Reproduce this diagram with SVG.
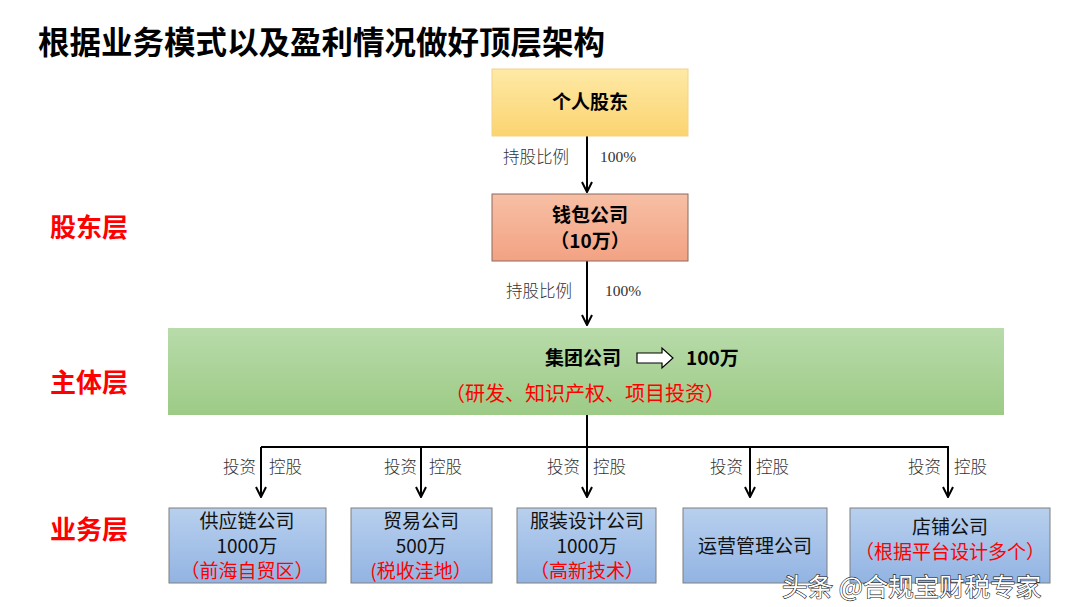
<svg xmlns="http://www.w3.org/2000/svg" width="1080" height="607" viewBox="0 0 1080 607">
<defs>
<linearGradient id="gY" x1="0" y1="0" x2="0" y2="1"><stop offset="0" stop-color="#FEE9A6"/><stop offset="1" stop-color="#FBD470"/></linearGradient>
<linearGradient id="gR" x1="0" y1="0" x2="0" y2="1"><stop offset="0" stop-color="#F7BFA5"/><stop offset="1" stop-color="#F3A283"/></linearGradient>
<linearGradient id="gG" x1="0" y1="0" x2="0" y2="1"><stop offset="0" stop-color="#B8DBAA"/><stop offset="1" stop-color="#9DCB86"/></linearGradient>
<linearGradient id="gB" x1="0" y1="0" x2="0" y2="1"><stop offset="0" stop-color="#B8D0EE"/><stop offset="1" stop-color="#92B3E2"/></linearGradient>
<marker id="ah" viewBox="0 0 12 12" refX="11" refY="6" markerWidth="12" markerHeight="12" markerUnits="userSpaceOnUse" orient="auto"><path d="M1,1 L11,6 L1,11" fill="none" stroke="#000" stroke-width="2"/></marker>
</defs>
<style>
.cj{font-family:"Noto Sans CJK SC","Liberation Sans",sans-serif}
.t{font-size:31.5px;font-weight:700;fill:#000}
.layer{font-size:26px;font-weight:700;fill:#FF0000}
.bold{font-size:19px;font-weight:700;fill:#000}
.lbl{font-size:16.5px;font-weight:300;fill:#333}
.pct{font-family:"Liberation Serif",serif;font-size:15.5px;fill:#333}
.nb{font-size:19px;fill:#111}
.red{fill:#FF0000}
.ln{stroke:#000;stroke-width:2;fill:none}
.bx{stroke:#7F7F7F;stroke-width:1}
</style>
<rect width="1080" height="607" fill="#fff"/>
<text class="cj t" x="38" y="54">根据业务模式以及盈利情况做好顶层架构</text>
<g id="layers">
<text class="cj layer" x="50" y="237">股东层</text>
<text class="cj layer" x="50" y="392">主体层</text>
<text class="cj layer" x="50" y="539">业务层</text>
</g>
<g id="connectors">
<line class="ln" x1="587" y1="136" x2="587" y2="192" marker-end="url(#ah)"/>
<line class="ln" x1="587" y1="261" x2="587" y2="325" marker-end="url(#ah)"/>
<line class="ln" x1="587" y1="415" x2="587" y2="497" marker-end="url(#ah)"/>
<polyline class="ln" points="261,447 948,447 948,497" marker-end="url(#ah)"/>
<line class="ln" x1="261" y1="447" x2="261" y2="497" marker-end="url(#ah)"/>
<line class="ln" x1="421" y1="447" x2="421" y2="497" marker-end="url(#ah)"/>
<line class="ln" x1="750" y1="447" x2="750" y2="497" marker-end="url(#ah)"/>
<text class="cj lbl" x="503" y="163">持股比例</text>
<text class="pct" x="600" y="162">100%</text>
<text class="cj lbl" x="506" y="297">持股比例</text>
<text class="pct" x="605" y="296">100%</text>
<text class="cj lbl" x="223" y="473">投资</text><text class="cj lbl" x="269" y="473">控股</text>
<text class="cj lbl" x="384" y="473">投资</text><text class="cj lbl" x="429" y="473">控股</text>
<text class="cj lbl" x="547" y="473">投资</text><text class="cj lbl" x="593" y="473">控股</text>
<text class="cj lbl" x="710" y="473">投资</text><text class="cj lbl" x="756" y="473">控股</text>
<text class="cj lbl" x="908" y="473">投资</text><text class="cj lbl" x="954" y="473">控股</text>
</g>
<g id="n-shareholder">
<rect x="492" y="69" width="196" height="67" fill="url(#gY)" stroke="#F2D28A" stroke-width="1"/>
<text class="cj bold" x="590" y="109" text-anchor="middle">个人股东</text>
</g>
<g id="n-wallet">
<rect x="492" y="194" width="196" height="67" fill="url(#gR)" stroke="#8A6A5E" stroke-width="1"/>
<text class="cj bold" x="590" y="222" text-anchor="middle">钱包公司</text>
<text class="cj bold" x="590" y="248" text-anchor="middle">（10万）</text>
</g>
<g id="n-group">
<rect x="168" y="328" width="836" height="87" fill="url(#gG)"/>
<text class="cj bold" font-size="20" x="545" y="365">集团公司</text>
<path d="M637,353 L662,353 L662,348 L673,358 L662,368 L662,363 L637,363 Z" fill="#fff" stroke="#000" stroke-width="1.2"/>
<text class="cj bold" font-size="20" x="686" y="365">100万</text>
<text class="cj red" font-size="20" x="585" y="401" text-anchor="middle">（研发、知识产权、项目投资）</text>
</g>
<g id="n-supply">
<rect class="bx" x="169" y="508" width="157" height="75" fill="url(#gB)"/>
<text class="cj nb" x="247" y="528" text-anchor="middle">供应链公司</text>
<text class="cj nb" x="247" y="553" text-anchor="middle">1000万</text>
<text class="cj nb red" x="247" y="578" text-anchor="middle">（前海自贸区）</text>
</g>
<g id="n-trade">
<rect class="bx" x="351" y="508" width="141" height="75" fill="url(#gB)"/>
<text class="cj nb" x="421" y="528" text-anchor="middle">贸易公司</text>
<text class="cj nb" x="421" y="553" text-anchor="middle">500万</text>
<text class="cj nb red" x="421" y="578" text-anchor="middle">(税收洼地）</text>
</g>
<g id="n-design">
<rect class="bx" x="517" y="508" width="139" height="75" fill="url(#gB)"/>
<text class="cj nb" x="587" y="528" text-anchor="middle">服装设计公司</text>
<text class="cj nb" x="587" y="553" text-anchor="middle">1000万</text>
<text class="cj nb red" x="587" y="578" text-anchor="middle">（高新技术）</text>
</g>
<g id="n-ops">
<rect class="bx" x="683" y="508" width="144" height="75" fill="url(#gB)"/>
<text class="cj nb" x="755" y="553" text-anchor="middle">运营管理公司</text>
</g>
<g id="n-store">
<rect class="bx" x="850" y="508" width="200" height="75" fill="url(#gB)"/>
<text class="cj nb" x="950" y="534" text-anchor="middle">店铺公司</text>
<text class="cj nb red" x="950" y="559" text-anchor="middle">（根据平台设计多个）</text>
</g>
<text class="cj" x="782" y="596" font-size="25.5" fill="#fff" stroke="#222" stroke-width="1.2" paint-order="stroke">头条 @合规宝财税专家</text>
</svg>
